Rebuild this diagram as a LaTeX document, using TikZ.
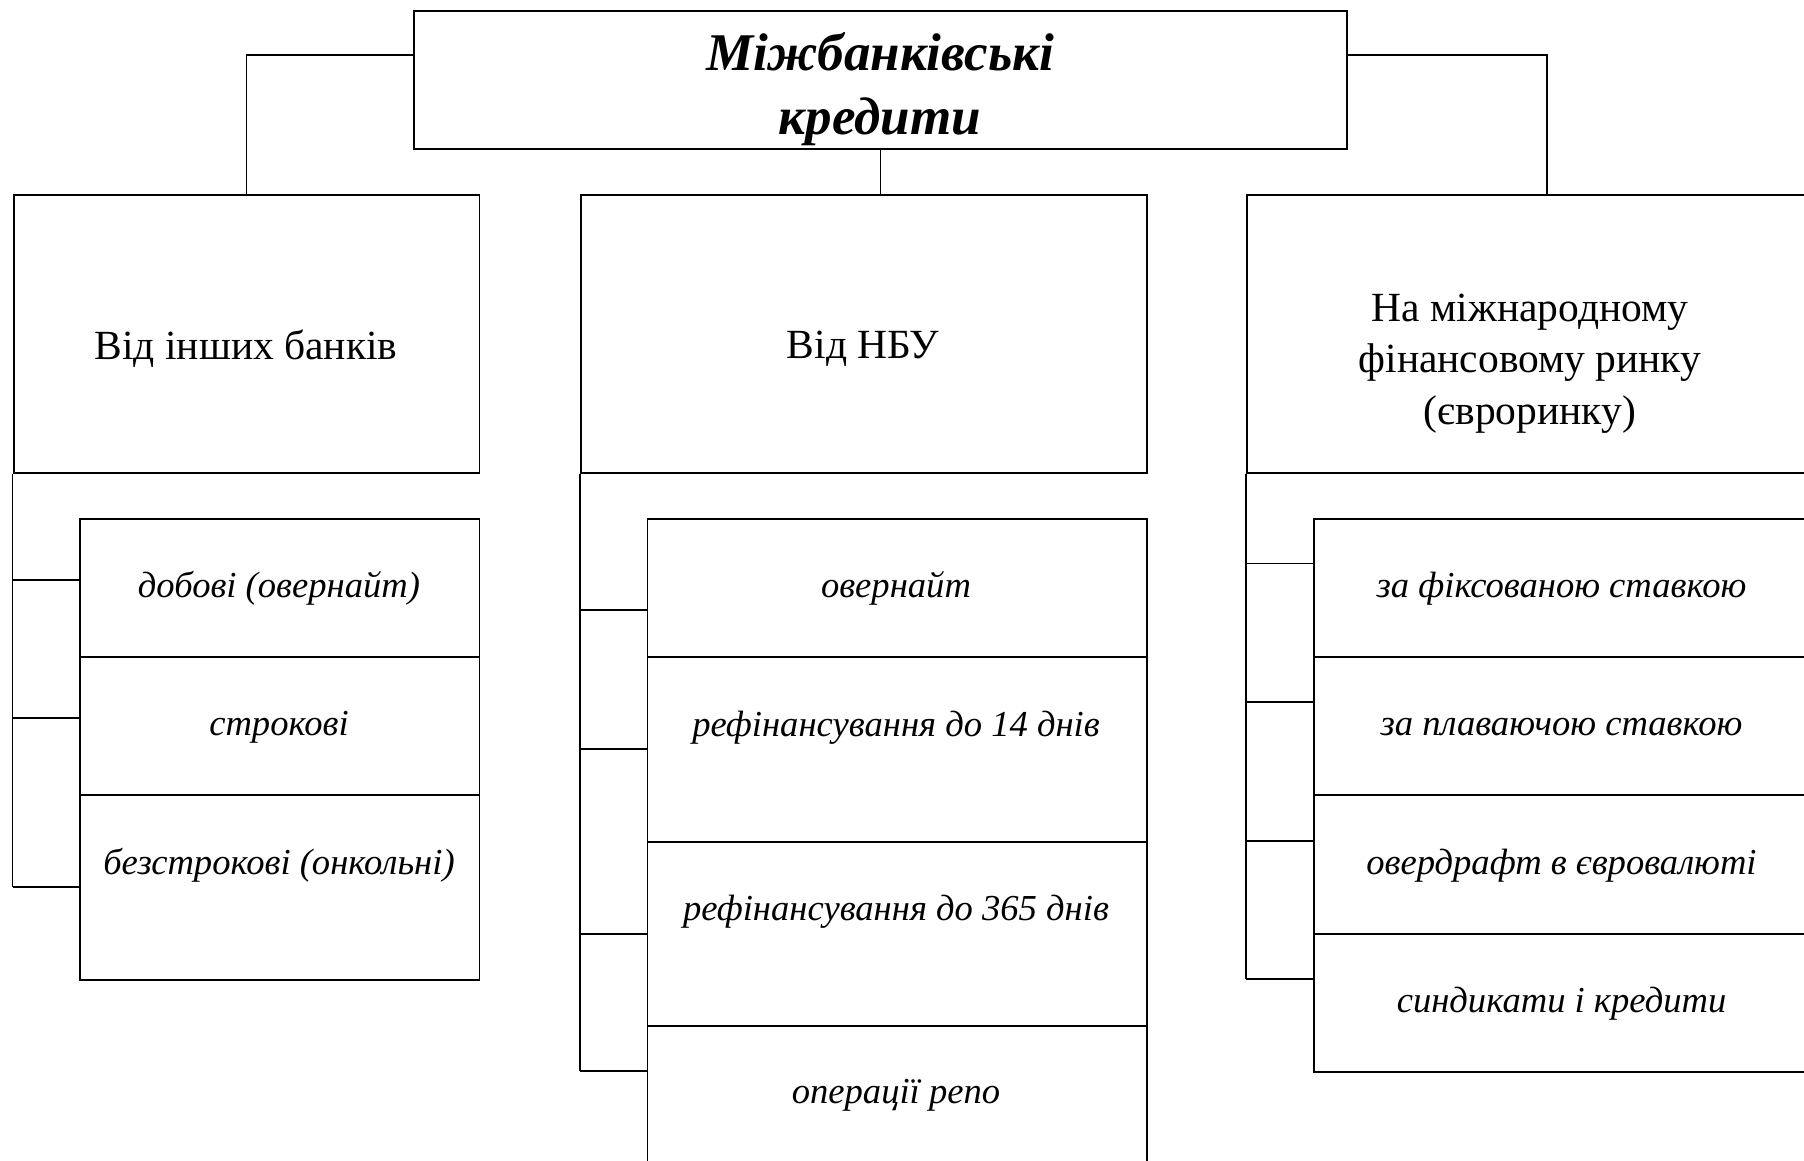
\documentclass[tikz,border=0pt]{standalone}
\usepackage{fontspec}
\setmainfont{Liberation Serif}
\begin{document}
\begin{tikzpicture}[x=1pt,y=-1pt,
  box/.style={draw, line width=1.8pt, rectangle, inner sep=0pt, anchor=north west},
  conn/.style={line width=1.5pt},
  ttl/.style={font=\fontsize{53}{63.5}\selectfont\bfseries\itshape, align=center, inner sep=0pt},
  head/.style={font=\fontsize{41.5}{51.5}\selectfont, align=center, inner sep=0pt},
  subt/.style={font=\fontsize{36.6}{43}\selectfont\itshape, inner sep=0pt},
]
\useasboundingbox (0,0) rectangle (1804,1161);
% top box
\node[box, minimum width=933pt, minimum height=138pt] (top) at (413,10.4) {};
\node[ttl] (ttl) at (880,89) {Міжбанківські\\кредити};
% head boxes
\node[box, minimum width=465.9pt, minimum height=277.3pt] (lh) at (12.7,194.4) {};
\node[box, minimum width=566.1pt, minimum height=277.3pt] (mh) at (579.8,194.4) {};
\node[box, minimum width=600.6pt, minimum height=277.3pt] (rh) at (1246,194.4) {};
\node[head] (lht) at (246,348.5) {Від інших банків};
\node[head] (mht) at (863,348.5) {Від НБУ};
\node[head] (rht) at (1530,363.5) {На міжнародному\\фінансовому ринку\\(євроринку)};
% left sub boxes
\node[box, minimum width=399.2pt, minimum height=138.1pt] (l1) at (79.4,517.7) {};
\node[box, minimum width=399.2pt, minimum height=138pt] (l2) at (79.4,655.8) {};
\node[box, minimum width=399.2pt, minimum height=185.3pt] (l3) at (79.4,793.8) {};
\node[subt] (l1t) at (279,588.5) {добові (овернайт)};
\node[subt] (l2t) at (279,727.5) {строкові};
\node[subt] (l3t) at (279,865.5) {безстрокові (онкольні)};
% middle sub boxes
\node[box, minimum width=499.3pt, minimum height=138.1pt] (m1) at (646.6,517.7) {};
\node[box, minimum width=499.3pt, minimum height=185.2pt] (m2) at (646.6,655.8) {};
\node[box, minimum width=499.3pt, minimum height=184.1pt] (m3) at (646.6,841) {};
\node[box, minimum width=499.3pt, minimum height=200pt] (m4) at (646.6,1025.1) {};
\node[subt] (m1t) at (896,588.5) {овернайт};
\node[subt] (m2t) at (896,727.5) {рефінансування до 14 днів};
\node[subt] (m3t) at (896,911.5) {рефінансування до 365 днів};
\node[subt] (m4t) at (896,1095.5) {операції репо};
% right sub boxes
\node[box, minimum width=560pt, minimum height=138.1pt] (r1) at (1312.7,517.7) {};
\node[box, minimum width=560pt, minimum height=138pt] (r2) at (1312.7,655.8) {};
\node[box, minimum width=560pt, minimum height=139.2pt] (r3) at (1312.7,793.8) {};
\node[box, minimum width=560pt, minimum height=138.1pt] (r4) at (1312.7,933) {};
\node[subt] (r1t) at (1561.5,588.5) {за фіксованою ставкою};
\node[subt] (r2t) at (1561.5,727.5) {за плаваючою ставкою};
\node[subt] (r3t) at (1561.5,865.5) {овердрафт в євровалюті};
\node[subt] (r4t) at (1561.5,1003.5) {синдикати і кредити};
% connectors from top
\draw[conn] ([yshift=-44.8pt]top.north west) -| (lh.north);
\draw[conn] (top.south) -- (top.south |- mh.north);
\draw[conn] ([yshift=-44.8pt]top.north east) -| (rh.north);
% left spine
\draw[conn] (lh.south west) -- (lh.west |- 0,887);
\foreach \n/\y in {l1/579.9, l2/717.9, l3/887}
  \draw[conn] (lh.west |- 0,\y) -- (\n.west |- 0,\y);
% middle spine
\draw[conn] (mh.south west) -- (mh.west |- 0,1071.1);
\foreach \n/\y in {m1/609.8, m2/749, m3/934.2, m4/1071.1}
  \draw[conn] (mh.west |- 0,\y) -- (\n.west |- 0,\y);
% right spine
\draw[conn] (rh.south west) -- (rh.west |- 0,979.1);
\foreach \n/\y in {r1/563.7, r2/701.8, r3/841, r4/979.1}
  \draw[conn] (rh.west |- 0,\y) -- (\n.west |- 0,\y);
\end{tikzpicture}
\end{document}
